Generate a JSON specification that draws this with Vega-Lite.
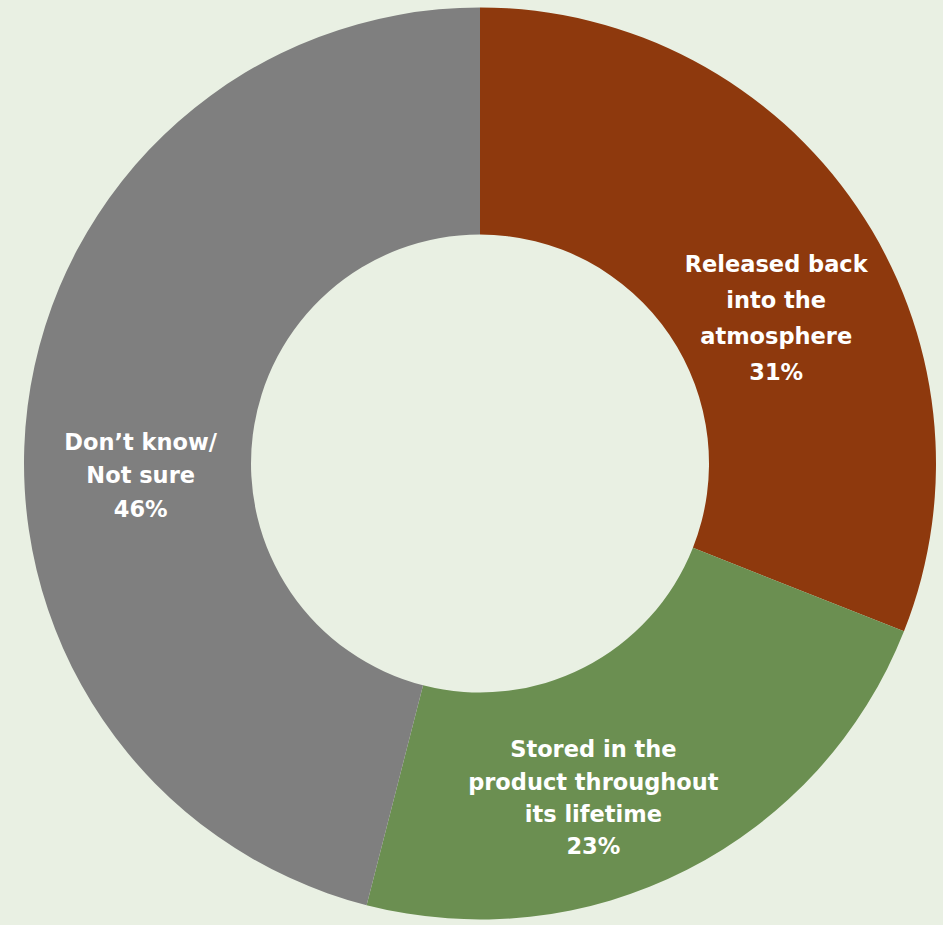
{
  "$schema": "https://vega.github.io/schema/vega-lite/v6.json",
  "width": 943,
  "height": 925,
  "autosize": {"type": "fit", "contains": "padding"},
  "padding": {"left": 17, "right": 0, "top": 2, "bottom": 0},
  "background": "#E9F0E3",
  "config": {"view": {"stroke": null}},
  "data": {
    "values": [
      {"category": "Released back\ninto the\natmosphere", "value": 31, "rank": 1},
      {"category": "Stored in the\nproduct throughout\nits lifetime", "value": 23, "rank": 2},
      {"category": "Don’t know/\nNot sure", "value": 46, "rank": 3}
    ]
  },
  "transform": [
    {"stack": "value", "groupby": [], "sort": [{"field": "rank"}], "as": ["v0", "v1"]},
    {"calculate": "(datum.v0 + datum.v1) / 2", "as": "mid"},
    {"calculate": "datum.category + '\\n' + datum.value + '%'", "as": "label"}
  ],
  "layer": [
    {
      "mark": {"type": "arc", "outerRadius": 456, "innerRadius": 229, "stroke": null},
      "encoding": {
        "theta": {"field": "v0", "type": "quantitative", "scale": {"domain": [0, 100]}},
        "theta2": {"field": "v1"},
        "color": {
          "field": "category",
          "type": "nominal",
          "scale": {
            "domain": ["Released back\ninto the\natmosphere", "Stored in the\nproduct throughout\nits lifetime", "Don’t know/\nNot sure"],
            "range": ["#8E390D", "#6B8F51", "#7F7F7F"]
          },
          "legend": null
        }
      }
    },
    {
      "transform": [{"filter": "datum.rank == 1"}],
      "mark": {"type": "text", "radius": 340, "dx": 15, "dy": -7, "font": "DejaVu Sans", "fontWeight": "bold", "fontSize": 22.5, "lineHeight": 36, "lineBreak": "\n", "color": "white", "align": "center", "baseline": "middle"},
      "encoding": {
        "theta": {"field": "mid", "type": "quantitative", "scale": {"domain": [0, 100]}},
        "text": {"field": "label"}
      }
    },
    {
      "transform": [{"filter": "datum.rank == 2"}],
      "mark": {"type": "text", "radius": 340, "dx": -41, "dy": -16, "font": "DejaVu Sans", "fontWeight": "bold", "fontSize": 22.5, "lineHeight": 32.3, "lineBreak": "\n", "color": "white", "align": "center", "baseline": "middle"},
      "encoding": {
        "theta": {"field": "mid", "type": "quantitative", "scale": {"domain": [0, 100]}},
        "text": {"field": "label"}
      }
    },
    {
      "transform": [{"filter": "datum.rank == 3"}],
      "mark": {"type": "text", "radius": 340, "dx": -2, "dy": 22, "font": "DejaVu Sans", "fontWeight": "bold", "fontSize": 22.5, "lineHeight": 33.5, "lineBreak": "\n", "color": "white", "align": "center", "baseline": "middle"},
      "encoding": {
        "theta": {"field": "mid", "type": "quantitative", "scale": {"domain": [0, 100]}},
        "text": {"field": "label"}
      }
    }
  ]
}
